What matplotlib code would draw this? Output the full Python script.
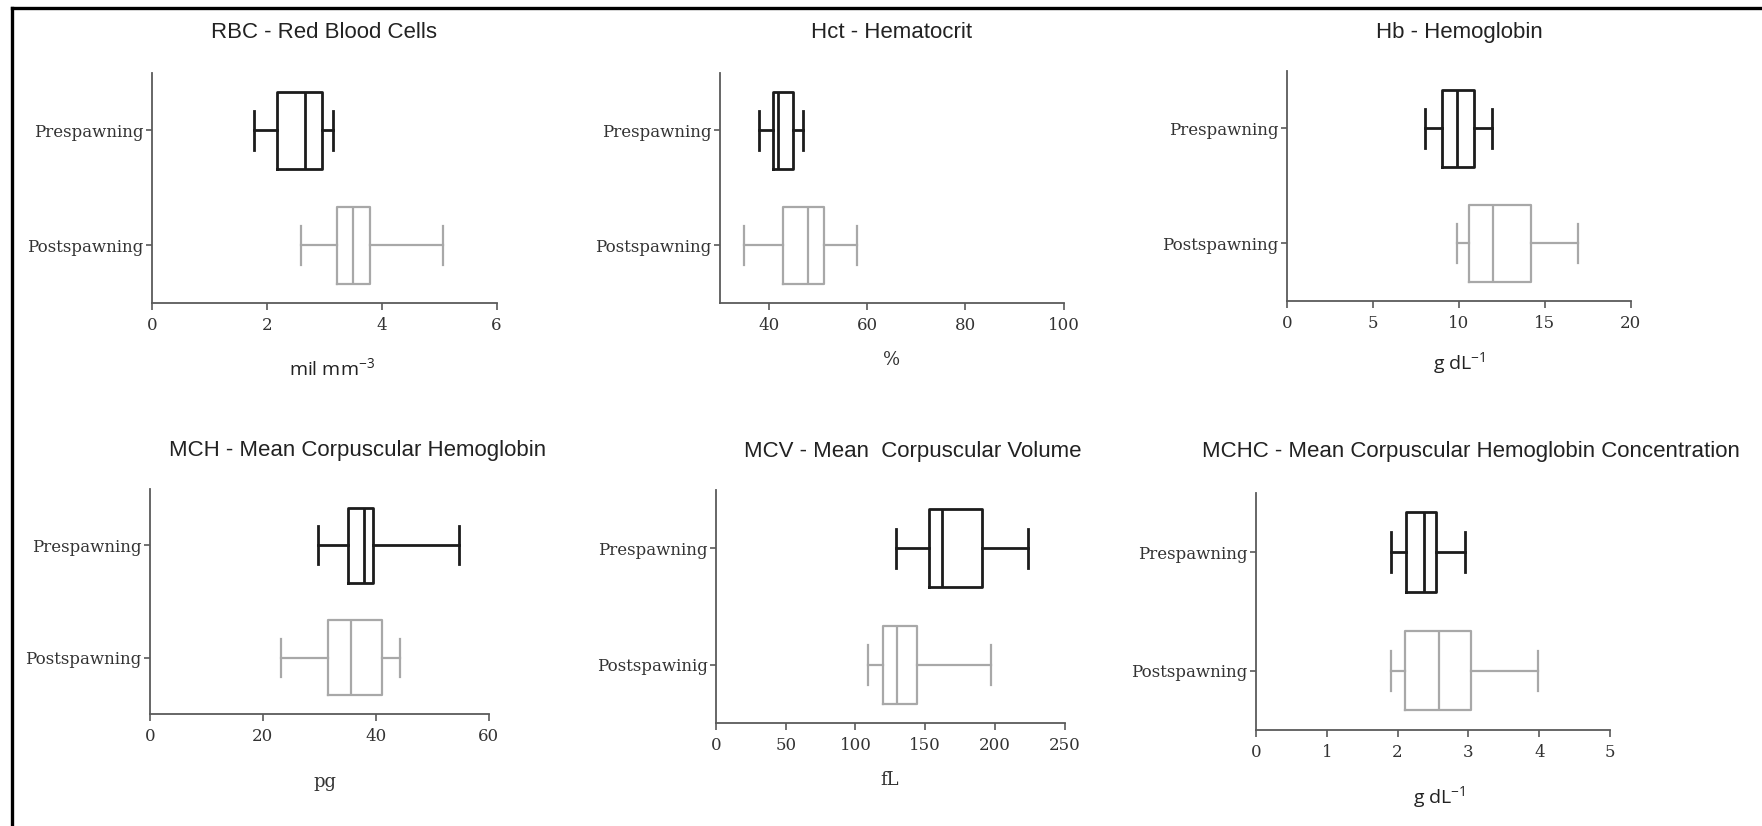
import matplotlib
matplotlib.use("Agg")
import matplotlib.pyplot as plt
from matplotlib.lines import Line2D

plt.rcParams['mathtext.default'] = 'regular'

# five-number summaries: [whislo, q1, med, q3, whishi]
titles = ["RBC - Red Blood Cells", "Hct - Hematocrit", "Hb - Hemoglobin",
          "MCH - Mean Corpuscular Hemoglobin", "MCV - Mean  Corpuscular Volume",
          "MCHC - Mean Corpuscular Hemoglobin Concentration"]
units = ["mil mm$^{-3}$", "%", "g dL$^{-1}$", "pg", "fL", "g dL$^{-1}$"]
post_names = ["Postspawning", "Postspawning", "Postspawning",
              "Postspawning", "Postspawinig", "Postspawning"]

pre = [
    [1.78, 2.17, 2.67, 2.97, 3.15],
    [37.9, 40.9, 41.8, 44.8, 46.9],
    [8.0, 9.0, 9.86, 10.88, 11.9],
    [29.7, 35.1, 38.0, 39.5, 54.8],
    [129, 153, 162, 191, 224],
    [1.9, 2.12, 2.37, 2.54, 2.95],
]
post = [
    [2.60, 3.23, 3.50, 3.79, 5.07],
    [34.9, 42.9, 48.0, 51.2, 58.0],
    [9.86, 10.6, 12.0, 14.2, 16.9],
    [23.2, 31.5, 35.7, 41.2, 44.3],
    [109, 120, 130, 144, 197],
    [1.9, 2.11, 2.59, 3.03, 3.98],
]
xlims = [(0, 6), (30, 100), (0, 20), (0, 60), (0, 250), (0, 5)]
xticks = [[0, 2, 4, 6], [40, 60, 80, 100], [0, 5, 10, 15, 20],
          [0, 20, 40, 60], [0, 50, 100, 150, 200, 250], [0, 1, 2, 3, 4, 5]]

# layout (figure fractions) and text placement per panel
rects = [
    [0.0862, 0.6332, 0.1956, 0.2785],
    [0.4086, 0.6332, 0.1950, 0.2785],
    [0.7304, 0.6356, 0.1952, 0.2785],
    [0.0851, 0.1356, 0.1922, 0.2724],
    [0.4064, 0.1243, 0.1978, 0.2825],
    [0.7128, 0.1162, 0.2010, 0.2873],
]
title_pos = [(0.5, 1.174), (0.5, 1.174), (0.5, 1.165),
             (0.614, 1.173), (0.5635, 1.164), (0.608, 1.173)]
label_pos = [(0.523, -0.283), (0.5, -0.248), (0.502, -0.27),
             (0.516, -0.301), (0.499, -0.243), (0.518, -0.281)]
label_serif = [False, True, False, True, True, False]

pre_col = "#1c1c1c"
post_col = "#a8a8a8"
serif = "DejaVu Serif"
sans = "Liberation Sans"
text_col = "#333333"

fig = plt.figure(figsize=(17.62, 8.26), dpi=100)


def stats(v):
    return dict(whislo=v[0], q1=v[1], med=v[2], q3=v[3], whishi=v[4], fliers=[])


for i in range(6):
    ax = fig.add_axes(rects[i])
    for vals, pos, col, lw in [(pre[i], 1, pre_col, 2.0), (post[i], 0, post_col, 1.6)]:
        ax.bxp([stats(vals)], positions=[pos], widths=0.67, orientation='horizontal',
               showfliers=False,
               boxprops=dict(color=col, linewidth=lw),
               medianprops=dict(color=col, linewidth=lw),
               whiskerprops=dict(color=col, linewidth=lw),
               capprops=dict(color=col, linewidth=lw))
    ax.set_ylim(-0.5, 1.5)
    ax.set_xlim(*xlims[i])
    ax.set_xticks(xticks[i])
    ax.set_yticks([1, 0])
    ax.set_yticklabels(["Prespawning", post_names[i]])
    for s in ["top", "right"]:
        ax.spines[s].set_visible(False)
    for s in ["left", "bottom"]:
        ax.spines[s].set_color("#5a5a5a")
        ax.spines[s].set_linewidth(1.3)
    ax.tick_params(axis='both', colors="#5a5a5a", length=4, width=1.2,
                   labelcolor=text_col, labelsize=12, pad=2)
    ax.tick_params(axis='x', length=5, pad=5)
    for lab in ax.get_xticklabels() + ax.get_yticklabels():
        lab.set_fontfamily(serif)
    ax.text(title_pos[i][0], title_pos[i][1], titles[i], transform=ax.transAxes,
            ha='center', va='center', fontsize=16, family=sans, color="#222222")
    if label_serif[i]:
        ax.text(label_pos[i][0], label_pos[i][1], units[i], transform=ax.transAxes,
                ha='center', va='center', fontsize=13, family=serif, color=text_col)
    else:
        ax.text(label_pos[i][0], label_pos[i][1], units[i], transform=ax.transAxes,
                ha='center', va='center', fontsize=14, family="Open Sans", color="#222222")

# frame lines at the top and left edge
fig.add_artist(Line2D([0.0068, 1.0], [0.9909, 0.9909], transform=fig.transFigure,
                      color="black", linewidth=2.4))
fig.add_artist(Line2D([0.0068, 0.0068], [0.0, 0.9909], transform=fig.transFigure,
                      color="black", linewidth=2.4))

fig.savefig("out.png", dpi=100)
